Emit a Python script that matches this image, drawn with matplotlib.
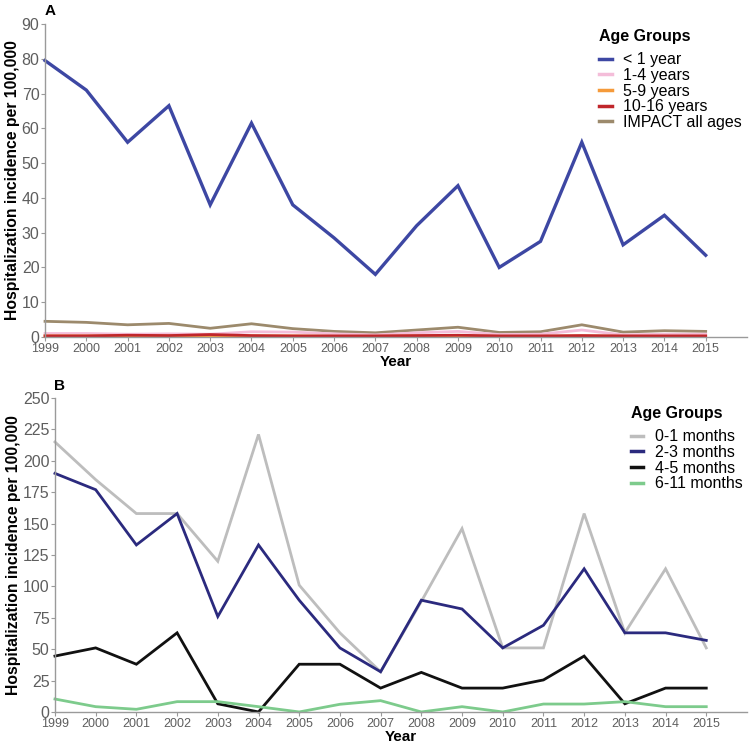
import matplotlib
matplotlib.use("Agg")
import matplotlib.pyplot as plt
from matplotlib.lines import Line2D

plt.rcParams['font.family'] = ['Liberation Sans', 'DejaVu Sans']

years = list(range(1999, 2016))

# Panel A
lt1_year = [79.5, 71, 56, 66.5, 38, 61.5, 38, 28.5, 18, 32, 43.5, 20, 27.5, 56, 26.5, 35, 23.5]
y1_4 = [1.0, 1.0, 0.8, 0.9, 0.8, 1.5, 1.4, 0.9, 0.6, 1.2, 1.6, 0.7, 0.8, 2.0, 0.6, 0.8, 0.8]
y5_9 = [0.3, 0.3, 0.3, 0.3, 0.4, 0.3, 0.3, 0.2, 0.2, 0.3, 0.3, 0.2, 0.2, 0.3, 0.2, 0.2, 0.2]
y10_16 = [0.3, 0.3, 0.5, 0.4, 0.7, 0.4, 0.3, 0.3, 0.3, 0.4, 0.5, 0.3, 0.3, 0.4, 0.3, 0.3, 0.3]
impact_all = [4.5, 4.2, 3.5, 3.9, 2.5, 3.8, 2.4, 1.6, 1.2, 2.0, 2.8, 1.3, 1.5, 3.5, 1.4, 1.8, 1.6]
labels_a = ["< 1 year", "1-4 years", "5-9 years", "10-16 years", "IMPACT all ages"]
colors_a = ["#3D47A3", "#F4BDD9", "#F59A3A", "#C0262B", "#9C8A6C"]

# Panel B
m0_1 = [215, 185, 158, 158, 120, 221, 101, 63, 32, 88, 146, 51, 51, 158, 63, 114, 51]
m2_3 = [190, 177, 133, 158, 76, 133, 89, 51, 32, 89, 82, 51, 69, 114, 63, 63, 57]
m4_5 = [44.5, 51, 38, 63, 6.5, 0, 38, 38, 19, 31.5, 19, 19, 25.5, 44.5, 6.5, 19, 19]
m6_11 = [10.3, 4.2, 2.1, 8.2, 8.2, 4.2, 0, 6.1, 9, 0, 4.2, 0, 6.3, 6.3, 8.2, 4.2, 4.2]
labels_b = ["0-1 months", "2-3 months", "4-5 months", "6-11 months"]
colors_b = ["#BDBDBD", "#2B2A7E", "#111111", "#7DCB8C"]

fig = plt.figure(figsize=(7.53, 7.51), dpi=100)

spine_c = "#9A9A9A"
tick_c = "#5E5E5E"


def style(ax, ymax, yticks):
    for s in ["top", "right"]:
        ax.spines[s].set_visible(False)
    for s in ["left", "bottom"]:
        ax.spines[s].set_color(spine_c)
        ax.spines[s].set_linewidth(1.0)
    ax.set_xlim(1999, 2016)
    ax.set_ylim(0, ymax)
    ax.spines["left"].set_bounds(0, ymax)
    ax.set_xticks(years)
    ax.set_yticks(yticks)
    ax.tick_params(axis="x", labelsize=9, colors=spine_c, labelcolor=tick_c, length=3, pad=1)
    ax.tick_params(axis="y", labelsize=11.5, colors=spine_c, labelcolor=tick_c, length=3, pad=1)
    ax.set_xlabel("Year", fontsize=11, fontweight="bold", labelpad=0)
    ax.set_ylabel("Hospitalization incidence per 100,000", fontsize=11.3, fontweight="bold", labelpad=1)
    ax.margins(0)


def legend(handles, labels, anchor):
    leg = fig.legend(handles, labels, title="Age Groups", loc="upper left",
                     bbox_to_anchor=anchor, frameon=False, fontsize=11.5,
                     title_fontproperties={"weight": "bold", "size": 11.5},
                     handlelength=0.8, handletextpad=0.7, labelspacing=0.04, borderpad=0)
    leg._legend_box.align = "left"
    leg._legend_box.sep = 6
    return leg


axA = fig.add_axes([0.0598, 0.5513, 0.9322, 0.4167])
series_a = [lt1_year, y1_4, y5_9, y10_16, impact_all]
order_a = [4, 1, 2, 3, 0]
for i in order_a:
    axA.plot(years, series_a[i], color=colors_a[i], lw=2.4 if i == 0 else 2.0, solid_joinstyle="miter", clip_on=False)
style(axA, 90, range(0, 91, 10))
handles_a = [Line2D([0], [0], color=c, lw=2.5) for c in colors_a]
legend(handles_a, labels_a, (0.785, 0.972))
fig.text(0.059, 0.986, "A", fontsize=11, fontweight="bold", ha="left", va="center")

axB = fig.add_axes([0.073, 0.052, 0.919, 0.418])
series_b = [m0_1, m2_3, m4_5, m6_11]
for i in [0, 1, 2, 3]:
    axB.plot(years, series_b[i], color=colors_b[i], lw=2.0, solid_joinstyle="miter", clip_on=False)
style(axB, 250, range(0, 251, 25))
handles_b = [Line2D([0], [0], color=c, lw=2.5) for c in colors_b]
legend(handles_b, labels_b, (0.827, 0.47))
fig.text(0.072, 0.486, "B", fontsize=11, fontweight="bold", ha="left", va="center")

fig.savefig("out.png", dpi=100, facecolor="white")
